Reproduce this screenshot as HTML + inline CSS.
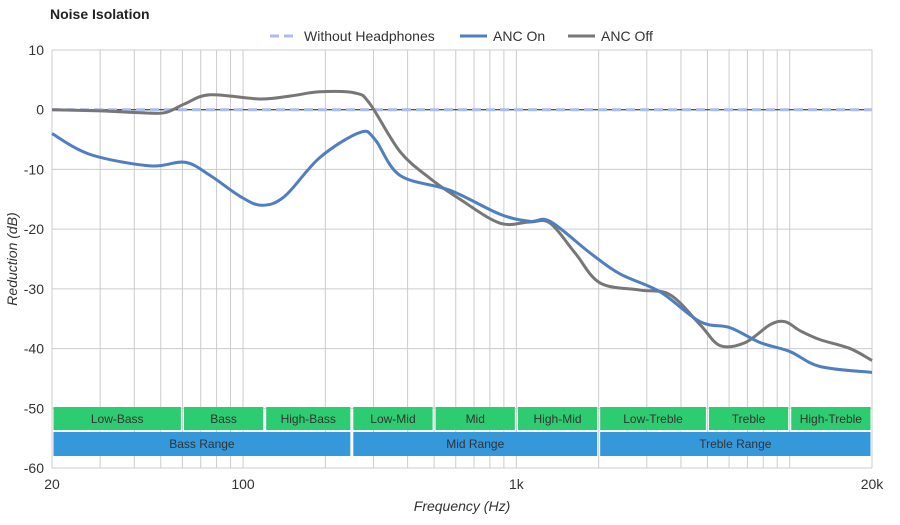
<!DOCTYPE html>
<html><head><meta charset="utf-8"><style>
body{margin:0;background:#fff;font-family:"Liberation Sans",sans-serif;}
svg text{font-family:"Liberation Sans",sans-serif;}
</style></head><body>
<svg id="chart" width="900" height="520" xmlns="http://www.w3.org/2000/svg">
<rect width="900" height="520" fill="#fff"/>
<text x="50" y="19" font-size="14" font-weight="bold" fill="#222">Noise Isolation</text>
<g id="legend">
 <g><line x1="270" y1="36" x2="298" y2="36" stroke="#aabcf2" stroke-width="3" stroke-dasharray="9,5"/><text x="304" y="41" font-size="14" fill="#333">Without Headphones</text></g>
 <g><line x1="460" y1="36" x2="487" y2="36" stroke="#4f7fc0" stroke-width="3"/><text x="493" y="41" font-size="14" fill="#333">ANC On</text></g>
 <g><line x1="568" y1="36" x2="595" y2="36" stroke="#777" stroke-width="3"/><text x="601" y="41" font-size="14" fill="#333">ANC Off</text></g>
</g>
<g id="grid"></g>
<g id="bands"></g>
<g id="series"></g>
<g id="axes"></g>
<text x="462" y="511" font-size="14" font-style="italic" text-anchor="middle" fill="#333">Frequency (Hz)</text>
<text transform="translate(17,259) rotate(-90)" font-size="14" font-style="italic" text-anchor="middle" fill="#333">Reduction (dB)</text>
</svg>
<script>
const yTicks=[10,0,-10,-20,-30,-40,-50,-60];
const xGridFreqs=[20,30,40,50,60,70,80,90,100,200,300,400,500,600,700,800,900,1000,2000,3000,4000,5000,6000,7000,8000,9000,10000,20000];
const xTickFreqs=[20,100,1000,20000];
const xTickLabels=["20","100","1k","20k"];
const onFreqs=[20,27.6,45.7,61.3,75.7,97.5,117,142,191,268,304,375,572,871,1122,1328,1862,2394,3357,4700,6050,7800,10020,12900,20000];
const onVals=[-4,-7.5,-9.4,-8.8,-11,-14.5,-16,-14.5,-8,-3.8,-5,-11,-13.5,-17.5,-18.7,-18.7,-24,-27.5,-30.5,-35.5,-36.5,-39,-40.5,-43,-44];
const offFreqs=[20,30,42,51.8,61.3,75.7,115,149,191,257,291,375,483,622,871,1122,1328,1640,2023,2833,3650,4700,5560,6870,8480,9620,10900,12900,16630,20000];
const offVals=[0,-0.2,-0.5,-0.5,1,2.5,1.8,2.3,3,2.8,1,-7,-11.5,-15,-19,-18.8,-19,-24,-29,-30.2,-31,-36,-39.5,-39,-36,-35.5,-37,-38.5,-40,-42];
const baseVal=0;
const bandNames=["Low-Bass","Bass","High-Bass","Low-Mid","Mid","High-Mid","Low-Treble","Treble","High-Treble"];
const bandStarts=[20,60,120,250,500,1000,2000,5000,10000];
const bandEnds=[60,120,250,500,1000,2000,5000,10000,20000];
const rangeNames=["Bass Range","Mid Range","Treble Range"];
const rangeStarts=[20,250,2000];
const rangeEnds=[250,2000,20000];

const X0=52,X1=872,Y0=50,Y1=468;
const x=f=>X0+(X1-X0)*Math.log10(f/20)/3;
const y=v=>Y0+(10-v)*(Y1-Y0)/70;
const NS="http://www.w3.org/2000/svg";
function mk(tag,parent,attrs){const e=document.createElementNS(NS,tag);for(const k in attrs)e.setAttribute(k,attrs[k]);parent.appendChild(e);return e;}
const grid=document.getElementById('grid'),axes=document.getElementById('axes'),bands=document.getElementById('bands'),series=document.getElementById('series');
yTicks.forEach(t=>{
 const l=mk('line',grid,{x1:X0,x2:X1,y1:y(t),y2:y(t),stroke:'#ccc','stroke-width':1});
 
 
 const tx=mk('text',axes,{x:44,y:y(t)+5,'font-size':14,'text-anchor':'end',fill:'#333'});tx.textContent=t;
 
 
});
xGridFreqs.forEach(f=>{
 const l=mk('line',grid,{x1:x(f),x2:x(f),y1:Y0,y2:Y1,stroke:'#ccc','stroke-width':1});
 
 
});
xTickFreqs.forEach((f,i)=>{
 const tx=mk('text',axes,{x:x(f),y:489,'font-size':14,'text-anchor':'middle',fill:'#333'});tx.textContent=xTickLabels[i];
 
 
});
bandNames.forEach((n,i)=>{
 const r=mk('rect',bands,{x:x(bandStarts[i])+1.5,y:407,width:x(bandEnds[i])-x(bandStarts[i])-3,height:23,fill:'#2ecc71'});
 
 
 const t=mk('text',bands,{x:(x(bandStarts[i])+x(bandEnds[i]))/2,y:423,'font-size':12,'text-anchor':'middle',fill:'#333'});t.textContent=n;
 
 
});
rangeNames.forEach((n,i)=>{
 const r=mk('rect',bands,{x:x(rangeStarts[i])+1.5,y:432,width:x(rangeEnds[i])-x(rangeStarts[i])-3,height:24,fill:'#3498db'});
 
 
 const t=mk('text',bands,{x:(x(rangeStarts[i])+x(rangeEnds[i]))/2,y:448,'font-size':12,'text-anchor':'middle',fill:'#333'});t.textContent=n;
 
 
});
const zl=mk('line',series,{x1:X0,x2:X1,y1:y(0),y2:y(0),stroke:'#222','stroke-width':1});


const bl=mk('line',series,{x1:X0,x2:X1,y1:y(baseVal),y2:y(baseVal),stroke:'#aabcf2','stroke-width':3,'stroke-dasharray':'9,5'});


function path(fs,vs){
 const p=fs.map((f,i)=>[x(f),y(vs[i])]);
 let d='M'+p[0][0]+','+p[0][1];
 for(let i=0;i<p.length-1;i++){
  const p0=p[Math.max(0,i-1)],p1=p[i],p2=p[i+1],p3=p[Math.min(p.length-1,i+2)];
  const c1=[p1[0]+(p2[0]-p0[0])/6,p1[1]+(p2[1]-p0[1])/6],c2=[p2[0]-(p3[0]-p1[0])/6,p2[1]-(p3[1]-p1[1])/6];
  d+=` C${c1[0]},${c1[1]} ${c2[0]},${c2[1]} ${p2[0]},${p2[1]}`;
 }
 return d;
}
const off=mk('path',series,{d:path(offFreqs,offVals),fill:'none',stroke:'#777','stroke-width':3});


const on=mk('path',series,{d:path(onFreqs,onVals),fill:'none',stroke:'#4f7fc0','stroke-width':3});


</script>
</body></html>
